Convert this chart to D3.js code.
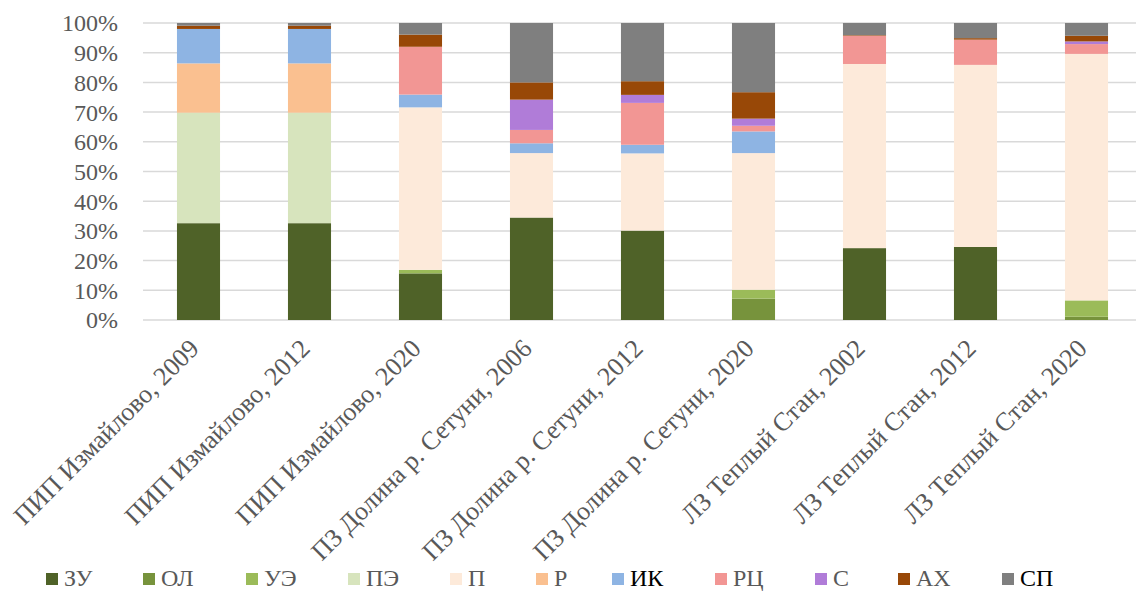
<!DOCTYPE html>
<html>
<head>
<meta charset="utf-8">
<script src="https://cdn.jsdelivr.net/npm/d3@7"></script>
<style>
  body { margin: 0; background: #fff; }
  text { font-family: "Liberation Serif", "Times New Roman", serif; }
</style>
</head>
<body>
<div id="chart"></div>
<script>
// categories (x axis)
var categories = [
  "ПИП Измайлово, 2009", "ПИП Измайлово, 2012", "ПИП Измайлово, 2020",
  "ПЗ Долина р. Сетуни, 2006", "ПЗ Долина р. Сетуни, 2012", "ПЗ Долина р. Сетуни, 2020",
  "ЛЗ Теплый Стан, 2002", "ЛЗ Теплый Стан, 2012", "ЛЗ Теплый Стан, 2020"
];

// series names, stacked bottom to top
var seriesNames = ["ЗУ", "ОЛ", "УЭ", "ПЭ", "П", "Р", "ИК", "РЦ", "С", "АХ", "СП"];
var seriesColors = ["#4F6228", "#77933C", "#9BBB59", "#D7E4BD", "#FDEADA", "#FAC090",
                    "#8EB4E3", "#F29694", "#B07CD8", "#984807", "#7F7F7F"];

// values in percent, one per category
var ZU = [32.6, 32.6, 15.7, 34.5, 30.1, 0,    24.2, 24.6, 0];
var OL = [0,    0,    0,    0,    0,    7.2,  0,    0,    1.1];
var UE = [0,    0,    1.2,  0,    0,    3.0,  0,    0,    5.5];
var PE = [37.2, 37.2, 0,    0,    0,    0,    0,    0,    0];
var P  = [0,    0,    54.7, 21.7, 26.0, 46.0, 62.0, 61.3, 83.0];
var R  = [16.6, 16.6, 0,    0,    0,    0,    0,    0,    0];
var IK = [11.6, 11.6, 4.3,  3.3,  2.9,  7.3,  0,    0,    0];
var RC = [0,    0,    16.1, 4.5,  14.1, 1.9,  9.5,  8.5,  3.3];
var S  = [0,    0,    0,    10.2, 2.7,  2.4,  0,    0,    0.9];
var AH = [1.1,  1.1,  4.1,  5.8,  4.6,  8.9,  0.2,  0.5,  1.9];
var SP = [0.9,  0.9,  3.9,  20.0, 19.6, 23.3, 4.1,  5.1,  4.3];

var yTicks = [0, 10, 20, 30, 40, 50, 60, 70, 80, 90, 100];

var seriesValues = [ZU, OL, UE, PE, P, R, IK, RC, S, AH, SP];

var table = categories.map(function(c, i) {
  var row = {cat: c};
  seriesNames.forEach(function(s, j) { row[s] = seriesValues[j][i]; });
  return row;
});

var W = 1136, H = 593;
var svg = d3.select("#chart").append("svg")
  .attr("width", W).attr("height", H);

var x = d3.scaleBand().domain(categories).range([143, 1142]).paddingInner(0.612).paddingOuter(0.306);
var y = d3.scaleLinear().domain([0, 100]).range([320, 23]);

// gridlines
svg.append("g").selectAll("line").data(yTicks).enter().append("line")
  .attr("x1", 143).attr("x2", W)
  .attr("y1", function(d) { return y(d); })
  .attr("y2", function(d) { return y(d); })
  .attr("stroke", "#D9D9D9").attr("stroke-width", 1.5);

// y axis
var yAxis = d3.axisLeft(y).tickValues(yTicks).tickSize(0).tickPadding(0)
  .tickFormat(function(d) { return d + "%"; });
var gy = svg.append("g").attr("transform", "translate(118,0)").call(yAxis);
gy.select(".domain").remove();
gy.selectAll("text").attr("font-size", "24px").attr("fill", "#595959")
  .attr("font-family", "Liberation Serif").attr("dy", "0.33em");

// bars
var stack = d3.stack().keys(seriesNames)(table);
svg.append("g").selectAll("g").data(stack).enter().append("g")
  .attr("fill", function(d, i) { return seriesColors[i]; })
  .selectAll("rect").data(function(d) { return d; }).enter().append("rect")
  .attr("x", function(d) { return x(d.data.cat); })
  .attr("width", x.bandwidth())
  .attr("y", function(d) { return y(d[1]); })
  .attr("height", function(d) { return Math.max(0, y(d[0]) - y(d[1])); });

// x labels
svg.append("g").selectAll("text").data(categories).enter().append("text")
  .attr("transform", function(d) {
    return "translate(" + (x(d) + x.bandwidth() / 2 + 2) + ",350) rotate(-45)";
  })
  .attr("text-anchor", "end")
  .attr("font-size", "26px")
  .attr("fill", "#595959")
  .text(function(d) { return d; });

// legend
var legendX = [46, 143, 246, 348, 450, 536, 612, 715, 815, 898, 1002];
var lg = svg.append("g").selectAll("g").data(seriesNames).enter().append("g")
  .attr("transform", function(d, i) { return "translate(" + legendX[i] + ",573)"; });
lg.append("rect").attr("width", 12).attr("height", 12)
  .attr("fill", function(d, i) { return seriesColors[i]; });
lg.append("text")
  .attr("x", 18).attr("y", 13)
  .attr("font-size", "24px")
  .attr("fill", function(d) { return (d === "ИК" || d === "СП") ? "#000" : "#595959"; })
  .text(function(d) { return d; });
</script>
</body>
</html>
